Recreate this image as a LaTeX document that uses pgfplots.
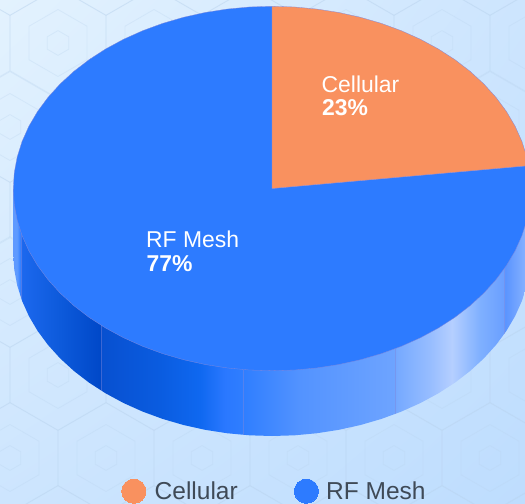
\documentclass[border=0pt]{standalone}
\usepackage{pgfplots}
\pgfplotsset{compat=1.18}
\usetikzlibrary{shadings}
\usepackage{fontspec}
\setmainfont{Liberation Sans}
\definecolor{orangeP}{HTML}{F9915F}
\definecolor{blueP}{HTML}{2D7BFF}
\definecolor{edgeP}{HTML}{7F88DD}
\definecolor{bgA}{HTML}{E3F2FE}
\definecolor{bgB}{HTML}{CDE5FE}
\definecolor{bgC}{HTML}{BEDDFE}
\definecolor{hexP}{HTML}{B9D3EE}
\definecolor{legtxt}{HTML}{3F4A57}
\definecolor{s01}{HTML}{5F99FF}
\definecolor{s02}{HTML}{5E9BFF}
\definecolor{s03}{HTML}{2F7CFF}
\definecolor{s04}{HTML}{1C68EE}
\definecolor{s05}{HTML}{0D5ADB}
\definecolor{s06}{HTML}{0048C8}
\definecolor{s07}{HTML}{0850D0}
\definecolor{s08}{HTML}{0A5CE0}
\definecolor{s09}{HTML}{0F68F0}
\definecolor{s10}{HTML}{2A78FF}
\definecolor{s11}{HTML}{2F7EFF}
\definecolor{s12}{HTML}{5393FF}
\definecolor{s13}{HTML}{6EA4FF}
\definecolor{s14}{HTML}{75A9FF}
\definecolor{s15}{HTML}{97BDFF}
\definecolor{s16}{HTML}{B5CFFF}
\definecolor{s17}{HTML}{7FB0FF}
\definecolor{s18}{HTML}{6A9FFF}
\definecolor{s19}{HTML}{5A94FF}
\definecolor{s20}{HTML}{90B8FF}
\pgfdeclarehorizontalshading{sidewall}{100bp}{
 color(0bp)=(s01); color(25bp)=(s01); color(25.36bp)=(s02); color(25.70bp)=(s03);
 color(25.79bp)=(s04); color(29.51bp)=(s05); color(33.43bp)=(s06); color(33.52bp)=(s07);
 color(39.18bp)=(s08); color(43.04bp)=(s09); color(45.46bp)=(s10); color(47.20bp)=(s11);
 color(52.70bp)=(s12); color(61.90bp)=(s13); color(62.00bp)=(s14); color(65.27bp)=(s15);
 color(67.40bp)=(s16); color(70.10bp)=(s17); color(72.42bp)=(s18); color(72.52bp)=(s19);
 color(75bp)=(s20); color(100bp)=(s20)}
\newcommand{\hexa}[3]{% centre x, centre y, radius
 \draw[hexP,opacity=.3,line width=.8bp] (#1,#2-#3) -- (#1+.866*#3,#2-.5*#3) -- (#1+.866*#3,#2+.5*#3)
   -- (#1,#2+#3) -- (#1-.866*#3,#2+.5*#3) -- (#1-.866*#3,#2-.5*#3) -- cycle;}
\begin{document}
\begin{tikzpicture}
\shade[upper left=bgA, upper right=bgB, lower left=bgB, lower right=bgC] (0,0) rectangle (525bp,504bp);
\begin{scope}
\clip (0,0) rectangle (525bp,504bp);
\begin{scope}[x=1bp,y=-1bp,shift={(0,504bp)}]
\foreach \r/\off in {-40/10,43/58,127/10,210/58,292/10,375/58,458/10,541/58}{
  \foreach \k in {-1,...,6}{
    \pgfmathsetmacro{\cx}{\off+96*\k}
    \hexa{\cx}{\r}{55.4}
    \hexa{\cx}{\r}{33.5}
    \hexa{\cx}{\r}{12.4}
  }
}
\end{scope}
\end{scope}
\begin{axis}[at={(0,0)},anchor=south west,scale only axis,width=525bp,height=504bp,
  xmin=0,xmax=525,ymin=0,ymax=504,y dir=reverse,axis lines=none]
% side wall
\addplot[draw=none,shading=sidewall] coordinates {
(13.3,188.5)(13.3,253.8)(14.29,269.68)(17.23,285.44)(22.11,300.96)(28.90,316.12)(37.54,330.80)(47.96,344.90)(60.09,358.31)(73.83,370.92)(89.07,382.64)(105.71,393.37)(123.61,403.05)(142.65,411.59)(162.67,418.93)(183.52,425.01)(205.04,429.79)(227.08,433.23)(249.45,435.31)(272,436.0)(294.55,435.31)(316.92,433.23)(338.96,429.79)(360.48,425.01)(381.33,418.93)(401.35,411.59)(420.39,403.05)(438.29,393.37)(454.93,382.64)(470.17,370.92)(483.91,358.31)(496.04,344.90)(506.46,330.80)(515.10,316.12)(521.89,300.96)(526.77,285.44)(529.71,269.68)(530.7,253.8)(530.7,188.5)} -- cycle;
\addplot[edgeP,line width=.35bp,opacity=.45] coordinates {(21,232.5)(21,297.8)};
\addplot[edgeP,line width=.35bp,opacity=.45] coordinates {(101,325.2)(101,390.5)};
\addplot[edgeP,line width=.35bp,opacity=.45] coordinates {(243,369.5)(243,434.8)};
\addplot[edgeP,line width=.35bp,opacity=.45] coordinates {(395,348.8)(395,414.1)};
\addplot[edgeP,line width=.35bp,opacity=.45] coordinates {(504,269)(504,334)};
% RF Mesh 77%
\addplot[fill=blueP,draw=edgeP,line width=.3bp] coordinates {
(272,188.5)(528.6,165.7)(529.71,172.62)(530.7,188.5)(529.71,204.38)(526.77,220.14)(521.89,235.66)(515.10,250.82)(506.46,265.50)(496.04,279.60)(483.91,293.01)(470.17,305.62)(454.93,317.34)(438.29,328.07)(420.39,337.75)(401.35,346.29)(381.33,353.63)(360.48,359.71)(338.96,364.49)(316.92,367.93)(294.55,370.01)(272,370.7)(249.45,370.01)(227.08,367.93)(205.04,364.49)(183.52,359.71)(162.67,353.63)(142.65,346.29)(123.61,337.75)(105.71,328.07)(89.07,317.34)(73.83,305.62)(60.09,293.01)(47.96,279.60)(37.54,265.50)(28.90,250.82)(22.11,235.66)(17.23,220.14)(14.29,204.38)(13.3,188.5)(14.29,172.62)(17.23,156.86)(22.11,141.34)(28.90,126.18)(37.54,111.50)(47.96,97.40)(60.09,83.99)(73.83,71.38)(89.07,59.66)(105.71,48.93)(123.61,39.25)(142.65,30.71)(162.67,23.37)(183.52,17.29)(205.04,12.51)(227.08,9.07)(249.45,6.99)(272,6.3)} -- cycle;
% Cellular 23%
\addplot[fill=orangeP,draw=edgeP,line width=.3bp] coordinates {
(272,188.5)(272,6.3)(294.55,6.99)(316.92,9.07)(338.96,12.51)(360.48,17.29)(381.33,23.37)(401.35,30.71)(420.39,39.25)(438.29,48.93)(454.93,59.66)(470.17,71.38)(483.91,83.99)(496.04,97.40)(506.46,111.50)(515.10,126.18)(521.89,141.34)(526.77,156.86)(528.6,165.7)} -- cycle;
% legend markers
\addplot[only marks,mark=*,mark size=12.1bp,color=orangeP,mark options={fill=orangeP,draw=orangeP,line width=0pt}] coordinates {(133.8,491.2)};
\addplot[only marks,mark=*,mark size=12.1bp,color=blueP,mark options={fill=blueP,draw=blueP,line width=0pt}] coordinates {(306.4,491.2)};
\node[anchor=base west,inner sep=0pt,text=white,font=\fontsize{23}{23}\selectfont] at (axis cs:321.5,92.5) {Cellular};
\node[anchor=base west,inner sep=0pt,text=white,font=\fontsize{23}{23}\bfseries\selectfont] at (axis cs:322,115.7) {23\%};
\node[anchor=base west,inner sep=0pt,text=white,font=\fontsize{23}{23}\selectfont] at (axis cs:146,247.7) {RF Mesh};
\node[anchor=base west,inner sep=0pt,text=white,font=\fontsize{23}{23}\bfseries\selectfont] at (axis cs:146.5,271.7) {77\%};
\node[anchor=base west,inner sep=0pt,text=legtxt,font=\fontsize{24.6}{24.6}\selectfont] at (axis cs:154.5,499.5) {Cellular};
\node[anchor=base west,inner sep=0pt,text=legtxt,font=\fontsize{24.6}{24.6}\selectfont] at (axis cs:326,499.5) {RF Mesh};
\end{axis}
\end{tikzpicture}
\end{document}
